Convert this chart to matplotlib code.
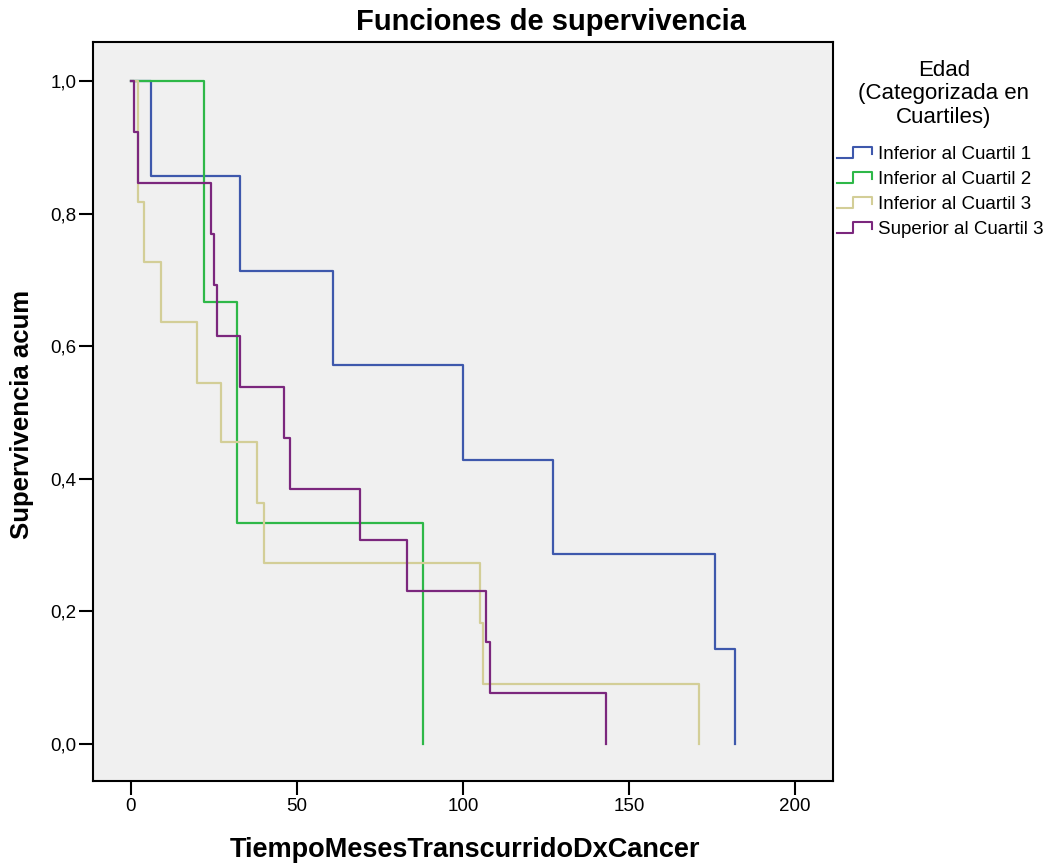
import matplotlib
matplotlib.use("Agg")
import matplotlib.pyplot as plt
from matplotlib.legend_handler import HandlerBase
from matplotlib.lines import Line2D

plt.rcParams['font.family'] = ['Liberation Sans', 'DejaVu Sans']

# Kaplan-Meier steps (time in months, cumulative survival)
groups = ["Inferior al Cuartil 1", "Inferior al Cuartil 2",
          "Inferior al Cuartil 3", "Superior al Cuartil 3"]
colors = ["#3E58AC", "#2EB848", "#D3CE97", "#7B277D"]

t_q1 = [0, 6, 33, 61, 100, 127, 176, 182]
s_q1 = [1.0, 0.857, 0.714, 0.571, 0.429, 0.286, 0.143, 0.0]

t_q2 = [0, 22, 32, 88]
s_q2 = [1.0, 0.667, 0.333, 0.0]

t_q3 = [0, 2, 4, 9, 20, 27, 38, 40, 105, 106, 171]
s_q3 = [1.0, 0.818, 0.727, 0.636, 0.545, 0.455, 0.364, 0.273, 0.182, 0.091, 0.0]

t_q4 = [0, 1, 2, 24, 25, 26, 33, 46, 48, 69, 83, 107, 108, 143]
s_q4 = [1.0, 0.923, 0.846, 0.769, 0.692, 0.615, 0.538, 0.462, 0.385, 0.308,
        0.231, 0.154, 0.077, 0.0]

times = [t_q1, t_q2, t_q3, t_q4]
survs = [s_q1, s_q2, s_q3, s_q4]

x_ticks = [0, 50, 100, 150, 200]
y_ticks = [0.0, 0.2, 0.4, 0.6, 0.8, 1.0]


class StepHandler(HandlerBase):
    # little step glyph like the SPSS legend
    def create_artists(self, legend, orig_handle, xdescent, ydescent,
                       width, height, fontsize, trans):
        x0, x1 = -xdescent, -xdescent + width
        ylo, yhi = -ydescent + 0.1 * height, -ydescent + 0.9 * height
        xm = x0 + 0.45 * width
        line = Line2D([x0, xm, xm, x1, x1], [ylo, ylo, yhi, yhi, ylo + 0.3 * height],
                      color=orig_handle.get_color(), lw=1.5, transform=trans)
        return [line]


fig = plt.figure(figsize=(10.54, 8.68), dpi=100)
ax = fig.add_axes([93 / 1054, 1 - 781 / 868, (833 - 93) / 1054, (781 - 42) / 868])
ax.set_facecolor("#F0F0F0")

handles = []
for t, s, c, g in zip(times, survs, colors, groups):
    ln, = ax.step(t, s, where="post", color=c, lw=1.6, label=g)
    handles.append(ln)

ax.set_xlim(-11.4, 211.4)
ax.set_ylim(-0.056, 1.059)
ax.set_xticks(x_ticks)
ax.set_xticklabels([str(v) for v in x_ticks])
ax.set_yticks(y_ticks)
ax.set_yticklabels([f"{v:.1f}".replace(".", ",") for v in y_ticks])
ax.tick_params(length=10, width=1.5, labelsize=13.5, pad=2)
for sp in ax.spines.values():
    sp.set_linewidth(1.5)

fig.text(465 / 1054, 1 - 850 / 868, "TiempoMesesTranscurridoDxCancer", fontsize=19.5,
         fontweight="bold", ha="center", va="center")
fig.text(22 / 1054, 1 - 414 / 868, "Supervivencia acum", fontsize=18.5,
         fontweight="bold", ha="center", va="center", rotation=90)

fig.text(551 / 1054, 1 - 22 / 868, "Funciones de supervivencia", fontsize=21,
         fontweight="bold", ha="center", va="center")

# legend title drawn on its own so the spacing can follow the reference
fig.text(944 / 1054, 1 - 94 / 868, "Edad\n(Categorizada en\nCuartiles)",
         fontsize=16, ha="center", va="center", multialignment="center",
         linespacing=1.18)

leg = fig.legend(handles=handles, labels=groups,
                 handler_map={Line2D: StepHandler()},
                 loc="upper left", bbox_to_anchor=(837 / 1054, 1 - 146 / 868),
                 frameon=False, fontsize=13.5, handlelength=1.85, handletextpad=0.32,
                 labelspacing=0.42, borderaxespad=0, borderpad=0)

fig.savefig("out.png", dpi=100)
